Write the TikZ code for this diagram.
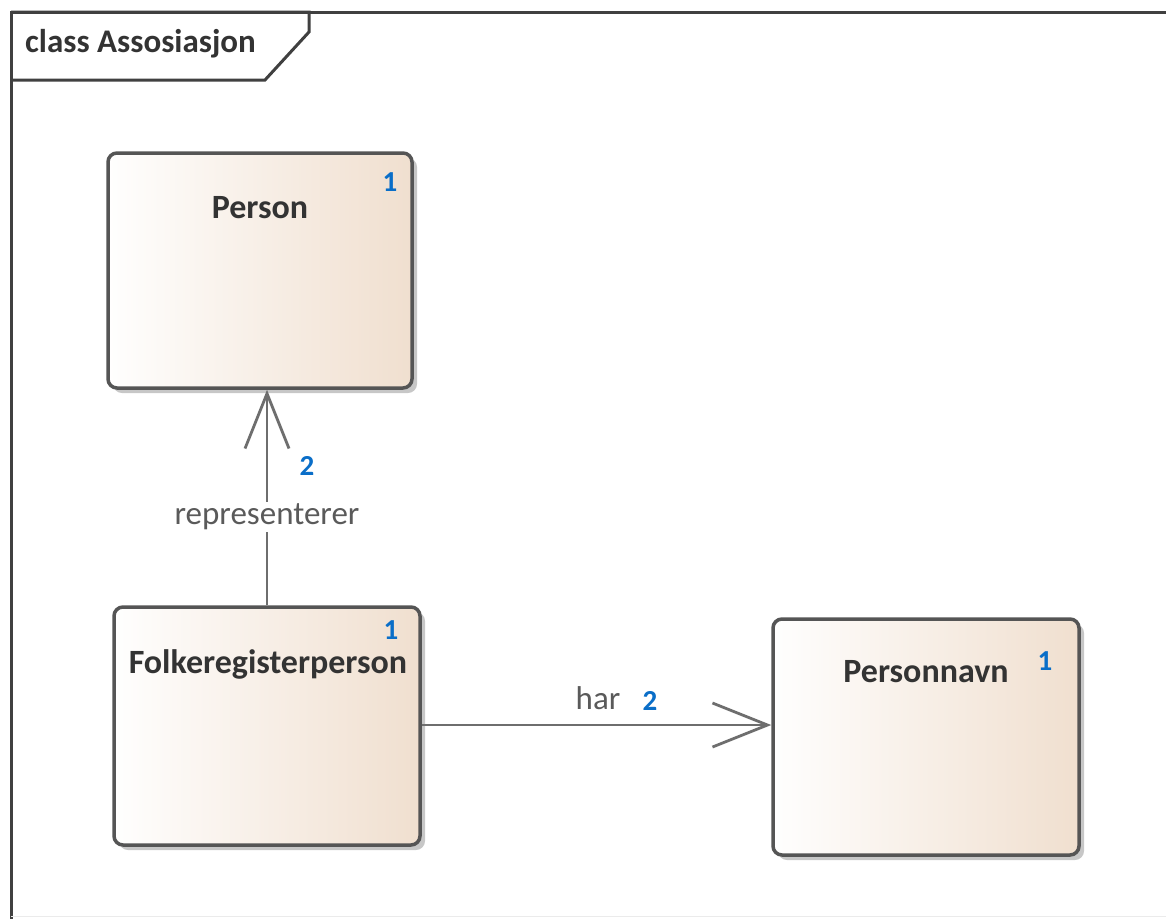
\documentclass[tikz,border=0pt]{standalone}
\usepackage{fontspec}
\setmainfont{Carlito}
\usetikzlibrary{arrows.meta,shadows,calc}
\definecolor{boxline}{HTML}{555555}
\definecolor{conn}{HTML}{6E6E6E}
\definecolor{multblue}{HTML}{0A6EC8}
\definecolor{grad}{HTML}{F0DFCF}
\definecolor{lbl}{HTML}{5A5A5A}
\begin{document}
\begin{tikzpicture}[x=1pt,y=-1pt,
  classbox/.style={rectangle, rounded corners=9pt, draw=boxline, line width=3.5pt,
    left color=white!98!grad, right color=grad, shading angle=90,
    drop shadow={shadow xshift=5pt,shadow yshift=-5pt,fill=black,opacity=0.22},
    minimum width=304pt, minimum height=235pt, inner sep=0pt},
  classname/.style={font=\fontsize{34}{40}\selectfont\bfseries, text=black!80, inner sep=0pt},
  mult/.style={font=\fontsize{29}{34}\selectfont\bfseries, text=multblue, inner sep=0pt},
  conlabel/.style={font=\fontsize{33}{38}\selectfont, text=lbl, inner sep=2pt},
  connector/.style={draw=conn, line width=2.8pt},
  openhead/.style={-{Straight Barb[length=55pt,width=44pt,line width=2.8pt]}},
]
\useasboundingbox (0,0) rectangle (1166,918);
\fill[white] (0,0) rectangle (1166,918);
% frame
\draw[line width=3pt, draw=black!75] (11,930) -- (11,12) -- (1180,12);
\draw[line width=1pt, draw=black!8] (11,916.5) -- (1180,916.5);
\draw[line width=3pt, draw=black!75, line join=miter] (11,12) -- (309,12) -- (309,32) -- (265,80) -- (11,80);
\node[font=\fontsize{33}{38}\selectfont\bfseries, text=black!80, anchor=west, inner sep=0pt] (title) at (25,44) {class Assosiasjon};

% classes
\node[classbox, minimum width=304pt, minimum height=235pt] (P) at (260,270.5) {};
\node[classbox, minimum width=306pt, minimum height=238pt] (F) at (267,726) {};
\node[classbox, minimum width=306pt, minimum height=236pt] (N) at (926,737) {};

\node[classname] (Pt) at (260,208) {Person};
\node[classname] (Ft) at (268,664) {Folkeregisterperson};
\node[classname] (Nt) at (926,672) {Personnavn};

\node[mult] (Pm) at (390,182) {1};
\node[mult] (Fm) at (391,630) {1};
\node[mult] (Nm) at (1045,661) {1};

% connectors
\draw[connector, openhead] (F.north) -- (F.north |- P.south)
  node[pos=0.41, conlabel, fill=white] (rep) {representerer};
\node[mult] (rm) at (307,466) {2};

\draw[connector, openhead] (F.east |- 0,725) -- (N.west |- 0,725);
\node[conlabel, inner sep=0pt] (har) at (598,698) {har};
\node[mult] (hm) at (650,701) {2};
\end{tikzpicture}
\end{document}
